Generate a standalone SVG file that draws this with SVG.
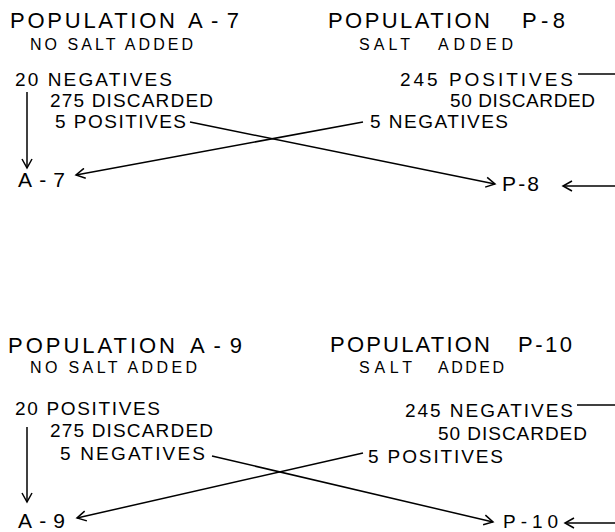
<svg xmlns="http://www.w3.org/2000/svg" width="615" height="532" viewBox="0 0 615 532">
<style>
text{font-family:"Liberation Sans",Arial,sans-serif;fill:#000;}
.t{font-size:22px;}
.s{font-size:16px;}
.c{font-size:19px;}
.n{font-size:21px;}
.ln{stroke:#000;stroke-width:1.5;fill:none;}
</style>
<defs>
<marker id="ah" viewBox="-10 -6 12 12" refX="0" refY="0" markerWidth="12" markerHeight="12" markerUnits="userSpaceOnUse" orient="auto">
<path d="M-9,-5 L0,0 L-9,5" fill="none" stroke="#000" stroke-width="1.5"/>
</marker>
</defs>
<rect width="615" height="532" fill="#fff"/>

<g id="popA7">
<text class="t" x="10" y="28" textLength="165" lengthAdjust="spacing">POPULATION</text>
<text class="t" x="188" y="28" textLength="51" lengthAdjust="spacing">A-7</text>
<text class="s" x="30" y="50" textLength="163" lengthAdjust="spacing">NO SALT ADDED</text>
<text class="c" x="15" y="86" textLength="157" lengthAdjust="spacing">20 NEGATIVES</text>
<text class="c" x="50" y="107" textLength="163" lengthAdjust="spacing">275 DISCARDED</text>
<text class="c" x="55" y="128" textLength="131" lengthAdjust="spacing">5 POSITIVES</text>
</g>
<g id="A7"><text class="n" x="18" y="187" textLength="47" lengthAdjust="spacing">A-7</text></g>

<g id="popP8">
<text class="t" x="328" y="28" textLength="162" lengthAdjust="spacing">POPULATION</text>
<text class="t" x="522" y="28" textLength="43" lengthAdjust="spacing">P-8</text>
<text class="s" x="359" y="50" textLength="51" lengthAdjust="spacing">SALT</text>
<text class="s" x="438" y="50" textLength="75" lengthAdjust="spacing">ADDED</text>
<text class="c" x="400" y="86" textLength="173" lengthAdjust="spacing">245 POSITIVES</text>
<text class="c" x="450" y="107" textLength="145" lengthAdjust="spacing">50 DISCARDED</text>
<text class="c" x="370" y="128" textLength="138" lengthAdjust="spacing">5 NEGATIVES</text>
</g>
<g id="P8"><text class="n" x="502" y="191" textLength="37" lengthAdjust="spacing">P-8</text></g>

<g id="popA9">
<text class="t" x="8" y="353" textLength="167" lengthAdjust="spacing">POPULATION</text>
<text class="t" x="190" y="353" textLength="52" lengthAdjust="spacing">A-9</text>
<text class="s" x="30" y="373" textLength="167" lengthAdjust="spacing">NO SALT ADDED</text>
<text class="c" x="15" y="415" textLength="145" lengthAdjust="spacing">20 POSITIVES</text>
<text class="c" x="50" y="437" textLength="163" lengthAdjust="spacing">275 DISCARDED</text>
<text class="c" x="60" y="460" textLength="145" lengthAdjust="spacing">5 NEGATIVES</text>
</g>
<g id="A9"><text class="n" x="18" y="528" textLength="47" lengthAdjust="spacing">A-9</text></g>

<g id="popP10">
<text class="t" x="330" y="352" textLength="160" lengthAdjust="spacing">POPULATION</text>
<text class="t" x="518" y="352" textLength="54" lengthAdjust="spacing">P-10</text>
<text class="s" x="359" y="373" textLength="53" lengthAdjust="spacing">SALT</text>
<text class="s" x="438" y="373" textLength="66" lengthAdjust="spacing">ADDED</text>
<text class="c" x="405" y="417" textLength="168" lengthAdjust="spacing">245 NEGATIVES</text>
<text class="c" x="438" y="440" textLength="149" lengthAdjust="spacing">50 DISCARDED</text>
<text class="c" x="368" y="463" textLength="135" lengthAdjust="spacing">5 POSITIVES</text>
</g>
<g id="P10"><text x="503" y="528" font-size="19" textLength="55" lengthAdjust="spacing">P-10</text></g>

<g id="connectors">
<line class="ln" x1="27" y1="92" x2="27" y2="168" marker-end="url(#ah)"/>
<line class="ln" x1="190" y1="122" x2="495" y2="184" marker-end="url(#ah)"/>
<line class="ln" x1="363" y1="122" x2="76" y2="175" marker-end="url(#ah)"/>
<line class="ln" x1="578" y1="74" x2="615" y2="74"/>
<line class="ln" x1="615" y1="186" x2="563" y2="186" marker-end="url(#ah)"/>
<line class="ln" x1="27" y1="427" x2="27" y2="502" marker-end="url(#ah)"/>
<line class="ln" x1="212" y1="456" x2="493" y2="522" marker-end="url(#ah)"/>
<line class="ln" x1="363" y1="453" x2="77" y2="518" marker-end="url(#ah)"/>
<line class="ln" x1="577" y1="405" x2="615" y2="405"/>
<line class="ln" x1="615" y1="523" x2="565" y2="523" marker-end="url(#ah)"/>
</g>
</svg>
